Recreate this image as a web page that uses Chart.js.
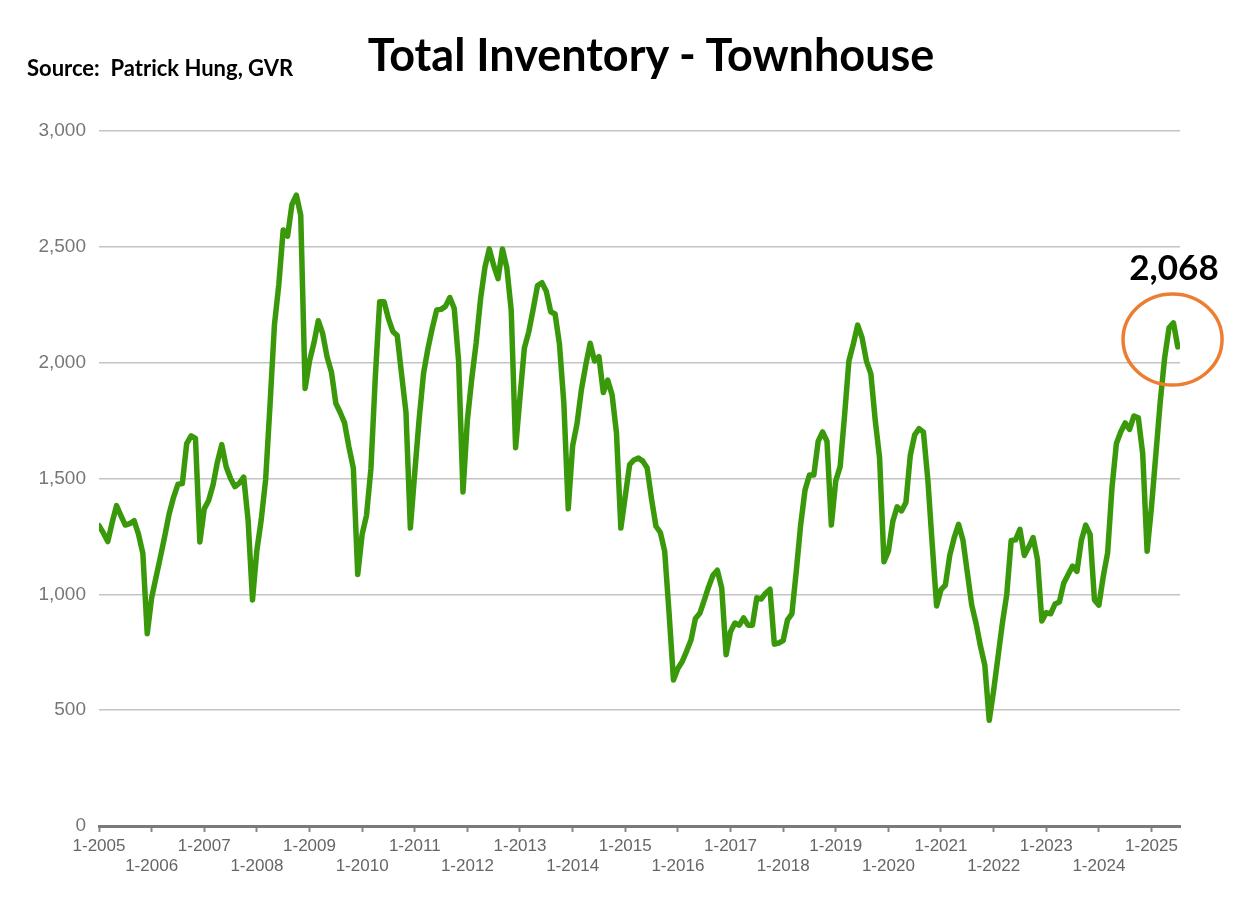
<!DOCTYPE html>
<html>
<head>
<meta charset="utf-8">
<script src="https://cdn.jsdelivr.net/npm/chart.js@4.4.1/dist/chart.umd.min.js"></script>
<style>
  html, body { margin: 0; padding: 0; background: #fff; }
  #wrap { position: relative; width: 1255px; height: 910px; }
  #chart { position: absolute; left: 0; top: 0; }
  .txt { position: absolute; font-family: Lato, "Open Sans", sans-serif; font-weight: 700; color: #000; white-space: nowrap; line-height: 1; }
  #title { left: 651px; top: 32px; font-size: 45px; transform: translateX(-50%); }
  #source { left: 27px; top: 57px; font-size: 22px; }
  #last { left: 1174px; top: 249px; font-size: 35px; transform: translateX(-50%); }
</style>
</head>
<body>
<div id="wrap">
  <canvas id="chart"></canvas>
  <div class="txt" id="title">Total Inventory - Townhouse</div>
  <div class="txt" id="source">Source:&nbsp; Patrick Hung, GVR</div>
  <div class="txt" id="last">2,068</div>
</div>
<script>
// monthly townhouse inventory, Jan 2005 .. Jul 2025
const yearLabels = ['1-2005', '1-2006', '1-2007', '1-2008', '1-2009', '1-2010', '1-2011', '1-2012', '1-2013', '1-2014',
  '1-2015', '1-2016', '1-2017', '1-2018', '1-2019', '1-2020', '1-2021', '1-2022', '1-2023', '1-2024', '1-2025'];

const y2005 = [1296, 1265, 1228, 1310, 1383, 1340, 1299, 1305, 1318, 1260, 1177, 830];
const y2006 = [985, 1073, 1161, 1252, 1348, 1419, 1475, 1478, 1651, 1684, 1673, 1226];
const y2007 = [1369, 1405, 1472, 1571, 1646, 1551, 1500, 1465, 1480, 1506, 1320, 976];
const y2008 = [1190, 1323, 1496, 1818, 2162, 2336, 2573, 2546, 2683, 2723, 2637, 1889];
const y2009 = [2007, 2084, 2181, 2126, 2026, 1960, 1825, 1785, 1740, 1635, 1545, 1086];
const y2010 = [1259, 1341, 1541, 1934, 2263, 2263, 2190, 2135, 2117, 1950, 1785, 1286];
const y2011 = [1525, 1756, 1953, 2060, 2149, 2227, 2230, 2243, 2281, 2235, 2007, 1442];
const y2012 = [1752, 1931, 2085, 2274, 2411, 2491, 2420, 2363, 2491, 2409, 2226, 1633];
const y2013 = [1852, 2063, 2133, 2231, 2333, 2345, 2308, 2220, 2210, 2080, 1825, 1369];
const y2014 = [1640, 1736, 1883, 1990, 2084, 2007, 2026, 1871, 1925, 1861, 1697, 1286];
const y2015 = [1423, 1560, 1580, 1588, 1575, 1545, 1411, 1294, 1267, 1185, 918, 630];
const y2016 = [680, 710, 755, 803, 896, 918, 974, 1032, 1082, 1104, 1027, 739];
const y2017 = [839, 876, 867, 898, 867, 867, 985, 980, 1005, 1022, 785, 790];
const y2018 = [800, 890, 916, 1100, 1300, 1451, 1515, 1515, 1661, 1701, 1661, 1299];
const y2019 = [1490, 1551, 1770, 2007, 2080, 2162, 2108, 2007, 1953, 1752, 1588, 1141];
const y2020 = [1186, 1314, 1378, 1360, 1396, 1600, 1688, 1715, 1700, 1495, 1216, 950];
const y2021 = [1020, 1040, 1168, 1244, 1302, 1235, 1095, 955, 874, 776, 693, 456];
const y2022 = [584, 730, 876, 1000, 1232, 1235, 1281, 1168, 1204, 1245, 1150, 885];
const y2023 = [921, 916, 958, 967, 1049, 1086, 1122, 1099, 1232, 1299, 1259, 976];
const y2024 = [953, 1077, 1180, 1462, 1651, 1702, 1740, 1712, 1770, 1762, 1606, 1186];
const y2025 = [1378, 1606, 1832, 2021, 2150, 2172, 2068];

const inventory = [].concat(y2005, y2006, y2007, y2008, y2009, y2010, y2011, y2012, y2013, y2014,
  y2015, y2016, y2017, y2018, y2019, y2020, y2021, y2022, y2023, y2024, y2025);

const GREEN = '#3a990a';
const ORANGE = '#ed7d31';

// orange ring round the latest readings
const ring = {
  id: 'ring',
  afterDatasetsDraw(chart) {
    const { ctx, scales: { x, y } } = chart;
    const n = inventory.length - 1;
    const cx = x.getPixelForValue(n - 1.2);
    const cy = y.getPixelForValue(2100);
    ctx.save();
    ctx.beginPath();
    ctx.ellipse(cx, cy, 49.5, 45.5, 0, 0, Math.PI * 2);
    ctx.strokeStyle = ORANGE;
    ctx.lineWidth = 3.5;
    ctx.stroke();
    ctx.restore();
  }
};

const canvas = document.getElementById('chart');
canvas.width = 1255; canvas.height = 910;
canvas.style.width = '1255px'; canvas.style.height = '910px';

new Chart(canvas.getContext('2d'), {
  type: 'line',
  data: {
    datasets: [{
      data: inventory.map((v, i) => ({ x: i, y: v })),
      borderColor: GREEN,
      borderWidth: 5.5,
      pointRadius: 0,
      tension: 0,
      borderJoinStyle: 'round',
      borderCapStyle: 'round',
      fill: false,
    }]
  },
  options: {
    responsive: false,
    animation: false,
    layout: { padding: { left: 0, right: 75, top: 131, bottom: 0 } },
    plugins: { legend: { display: false }, tooltip: { enabled: false } },
    scales: {
      x: {
        type: 'linear',
        min: 0,
        max: 246.5,
        afterBuildTicks: s => { s.ticks = yearLabels.map((_, i) => ({ value: i * 12 })); },
        afterFit: s => { s.height = 84; },
        grid: { drawOnChartArea: false, drawTicks: true, tickLength: 6, tickWidth: 2, tickColor: '#888' },
        border: { display: true, color: '#7a7a7a', width: 3 },
        ticks: {
          autoSkip: false,
          maxRotation: 0,
          padding: 4,
          color: '#666',
          font: { family: '"Liberation Sans Narrow", "Arial Narrow", "Liberation Sans", sans-serif', size: 17, lineHeight: 1.2 },
          callback: v => {
            const i = Math.round(v / 12);
            const lab = yearLabels[i];
            return i % 2 === 0 ? lab : ['', lab];
          }
        }
      },
      y: {
        min: 0,
        max: 3000,
        afterFit: s => { s.width = 99; },
        grid: { color: '#c4c4c4', lineWidth: 1.5, drawTicks: false },
        border: { display: false },
        ticks: {
          stepSize: 500,
          padding: 13,
          color: '#777',
          font: { family: '"Liberation Sans", Arial, sans-serif', size: 19 },
          callback: v => v.toLocaleString('en-US')
        }
      }
    }
  },
  plugins: [ring]
});
</script>
</body>
</html>
